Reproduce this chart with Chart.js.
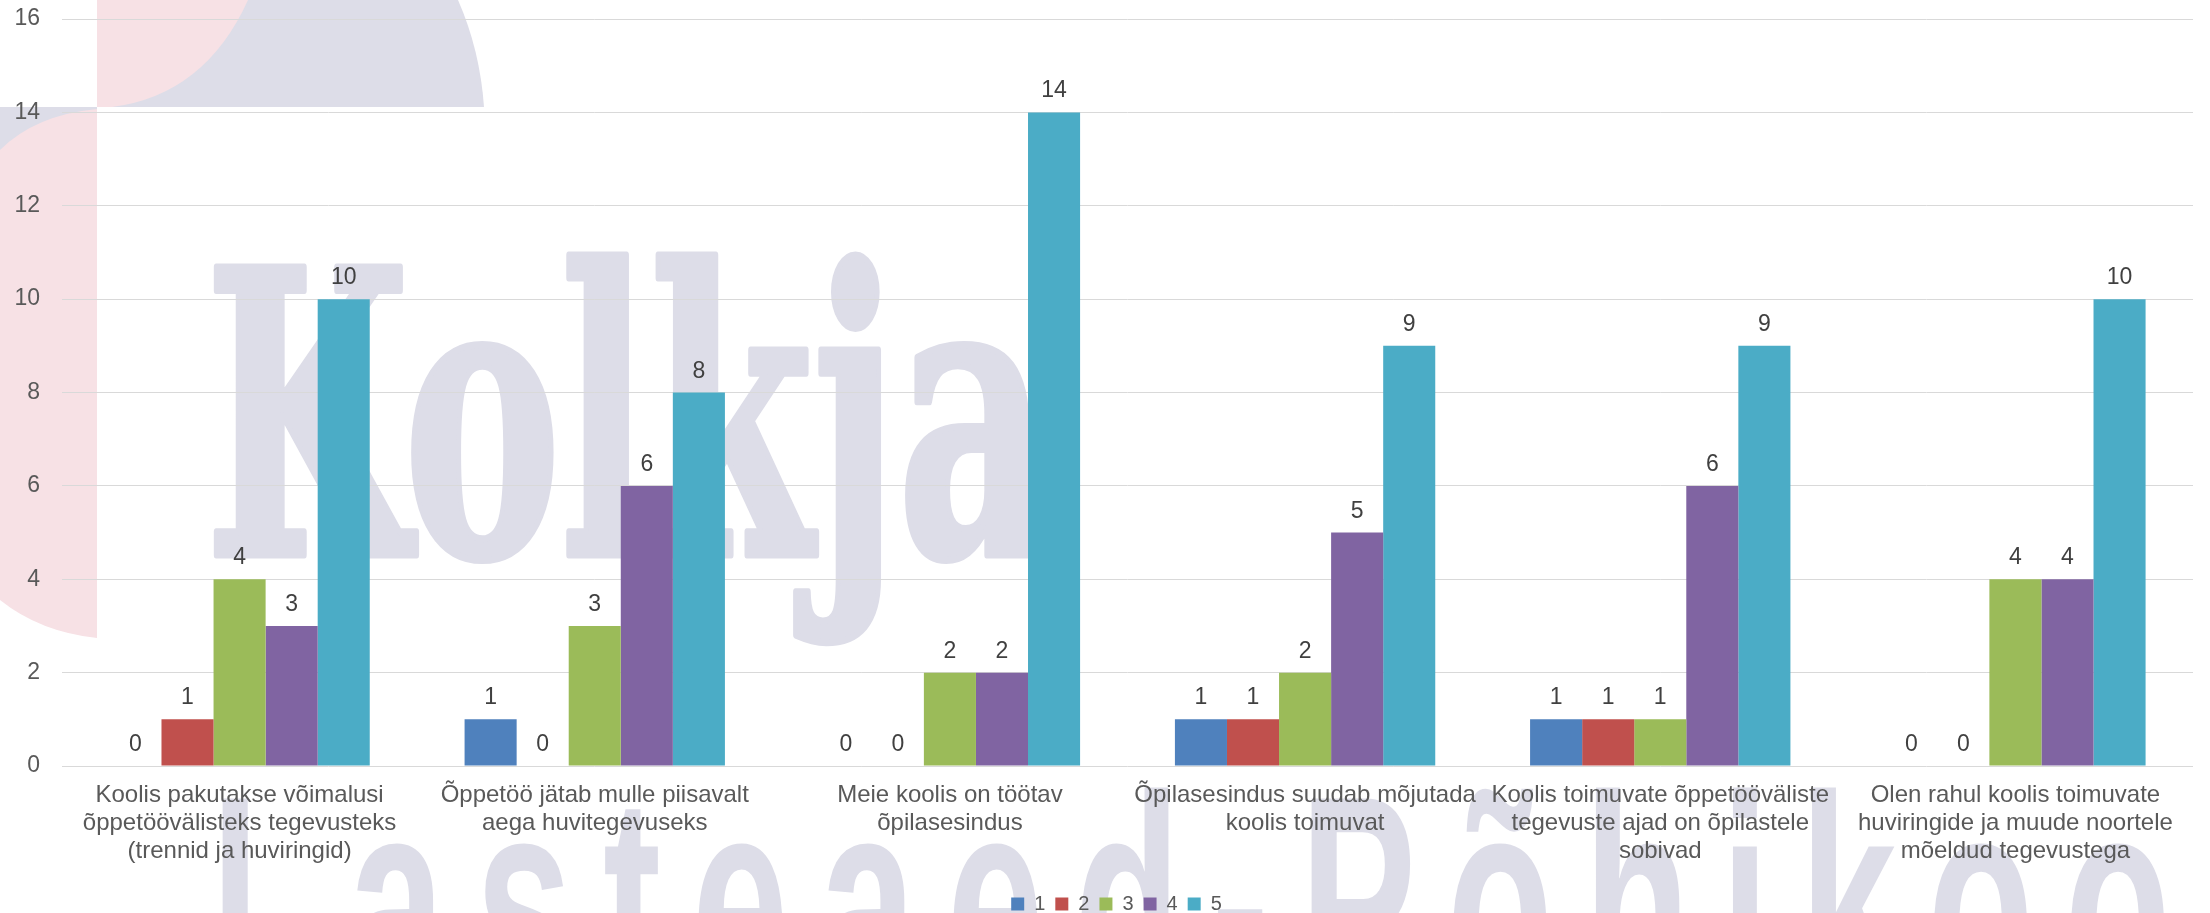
<!DOCTYPE html>
<html>
<head>
<meta charset="utf-8">
<script src="https://cdn.jsdelivr.net/npm/chart.js@4.4.0/dist/chart.umd.min.js"></script>
<style>
html,body{margin:0;padding:0;background:#fff;overflow:hidden;}
#wrap{width:2210px;height:913px;position:relative;}
canvas{display:block;}
</style>
</head>
<body>
<div id="wrap"><canvas id="c" width="2210" height="913"></canvas></div>
<script>
// ---- data ----
const categories = [
  ["Koolis pakutakse võimalusi", "õppetöövälisteks tegevusteks", "(trennid ja huviringid)"],
  ["Õppetöö jätab mulle piisavalt", "aega huvitegevuseks"],
  ["Meie koolis on töötav", "õpilasesindus"],
  ["Õpilasesindus suudab mõjutada", "koolis toimuvat"],
  ["Koolis toimuvate õppetööväliste", "tegevuste ajad on õpilastele", "sobivad"],
  ["Olen rahul koolis toimuvate", "huviringide ja muude noortele", "mõeldud tegevustega"]
];
const seriesNames = ["1", "2", "3", "4", "5"];
const values1 = [0, 1, 0, 1, 1, 0];
const values2 = [1, 0, 0, 1, 1, 0];
const values3 = [4, 3, 2, 2, 1, 4];
const values4 = [3, 6, 2, 5, 6, 4];
const values5 = [10, 8, 14, 9, 9, 10];
const yMin = 0, yMax = 16, yStep = 2;
const watermarkTop = "Kolkja";
const watermarkBottom = "Lasteaed-Põhikool";

const seriesValues = [values1, values2, values3, values4, values5];
const seriesColors = ["#4F81BD", "#C0504D", "#9BBB59", "#8064A2", "#4BACC6"];
const FONT = '"Liberation Sans", Arial, sans-serif';
const LAV = "#dddde8";
const PINK = "#f7e1e5";

const watermarkPlugin = {
  id: "watermark",
  afterLayout(chart) {
    if (chart.legend) { chart.legend.left = 40; }
  },
  beforeDraw(chart) {
    const c = chart.ctx;
    c.save();
    c.fillStyle = "#ffffff";
    c.fillRect(0, 0, chart.width, chart.height);

    // top strip of logo
    c.fillStyle = LAV;
    c.beginPath();
    c.moveTo(97, 0); c.lineTo(458, 0);
    c.quadraticCurveTo(480, 50, 484, 107);
    c.lineTo(97, 107); c.closePath(); c.fill();
    c.fillStyle = PINK;
    c.beginPath();
    c.moveTo(97, 0); c.lineTo(248, 0);
    c.quadraticCurveTo(205, 95, 112, 107);
    c.lineTo(97, 107); c.closePath(); c.fill();

    // left strip of logo
    c.fillStyle = PINK;
    c.beginPath();
    c.moveTo(0, 107); c.lineTo(97, 107); c.lineTo(97, 638);
    c.quadraticCurveTo(40, 632, 0, 600);
    c.closePath(); c.fill();
    c.fillStyle = LAV;
    c.beginPath();
    c.moveTo(0, 107); c.lineTo(97, 107); c.lineTo(97, 109);
    c.quadraticCurveTo(35, 115, 0, 150);
    c.closePath(); c.fill();

    c.textBaseline = "alphabetic";
    c.textAlign = "left";
    c.fillStyle = LAV;
    c.strokeStyle = LAV;
    c.lineJoin = "round";

    // "Kolkja"
    c.font = 'bold 395px "DejaVu Serif Condensed", "DejaVu Serif", serif';
    let m = c.measureText(watermarkTop);
    let w = m.actualBoundingBoxLeft + m.actualBoundingBoxRight;
    const sw = 7;
    const sx = 836 / (w + sw);
    c.save();
    c.translate(211, 555);
    c.scale(sx, 1);
    c.lineWidth = sw;
    c.fillText(watermarkTop, m.actualBoundingBoxLeft + sw / 2, 0);
    c.strokeText(watermarkTop, m.actualBoundingBoxLeft + sw / 2, 0);
    c.restore();

    // "Lasteaed-Põhikool"
    c.save();
    c.font = 'bold 300px "Liberation Sans", Arial, sans-serif';
    c.letterSpacing = "53px";
    c.translate(211, 1005);
    c.scale(0.58, 1);
    c.fillText(watermarkBottom, 0, 0);
    c.restore();

    c.restore();
  }
};

const dataLabelPlugin = {
  id: "dataLabels",
  afterDatasetsDraw(chart) {
    const c = chart.ctx;
    c.save();
    c.font = "23px " + FONT;
    c.fillStyle = "#404040";
    c.textAlign = "center";
    c.textBaseline = "alphabetic";
    chart.data.datasets.forEach((ds, i) => {
      const meta = chart.getDatasetMeta(i);
      meta.data.forEach((bar, j) => {
        c.fillText(String(ds.data[j]), bar.x, bar.y - 15);
      });
    });
    c.restore();
  }
};

const ctx = document.getElementById("c").getContext("2d");
new Chart(ctx, {
  type: "bar",
  data: {
    labels: categories,
    datasets: seriesNames.map((n, i) => ({
      label: n,
      data: seriesValues[i],
      backgroundColor: seriesColors[i],
      borderWidth: 0
    }))
  },
  options: {
    responsive: false,
    animation: false,
    devicePixelRatio: 1,
    layout: { padding: { left: 0, right: 17, top: 19, bottom: -11 } },
    datasets: { bar: { barPercentage: 1, categoryPercentage: 0.733 } },
    scales: {
      x: {
        grid: { display: false, drawTicks: false },
        border: { display: false },
        ticks: {
          font: { family: FONT, size: 24, lineHeight: 28 / 24 },
          color: "#595959",
          padding: 15,
          maxRotation: 0,
          autoSkip: false
        },
        afterFit(s) { s.height = 118; }
      },
      y: {
        min: yMin,
        max: yMax,
        ticks: {
          stepSize: yStep,
          font: { family: FONT, size: 23 },
          color: "#595959",
          padding: 22
        },
        grid: { color: "#d9d9d9", lineWidth: 1, drawTicks: false },
        border: { display: false },
        afterFit(s) { s.width = 62; s.paddingTop = 14; s.paddingBottom = 14; }
      }
    },
    plugins: {
      legend: {
        position: "bottom",
        labels: {
          boxWidth: 13,
          boxHeight: 13,
          padding: 10,
          font: { family: FONT, size: 20 },
          color: "#595959"
        }
      },
      tooltip: { enabled: false }
    }
  },
  plugins: [watermarkPlugin, dataLabelPlugin]
});
</script>
</body>
</html>
